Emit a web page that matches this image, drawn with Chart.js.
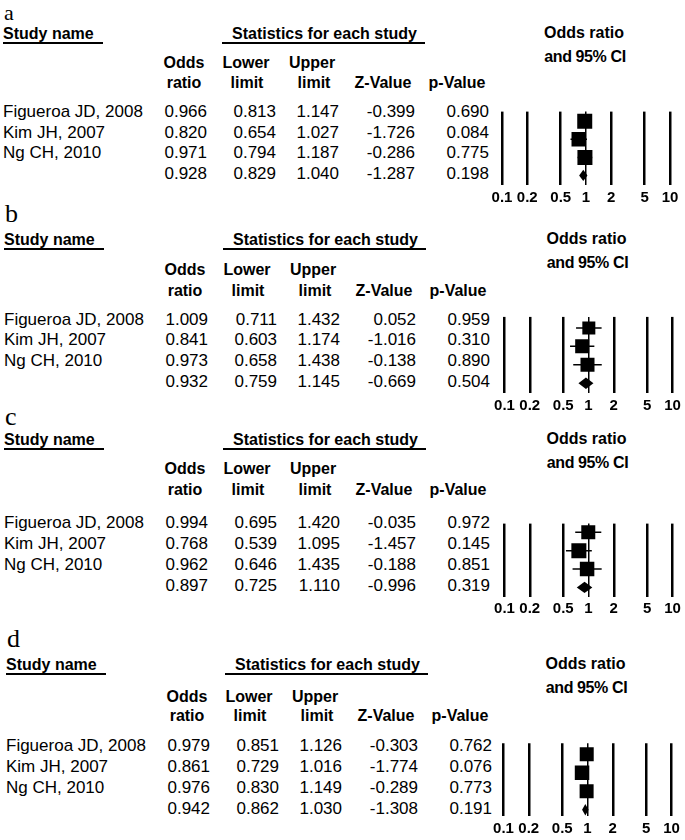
<!DOCTYPE html>
<html>
<head>
<meta charset="utf-8">
<script src="https://cdn.jsdelivr.net/npm/chart.js"></script>
<style>
body { margin:0; background:#fff; width:685px; height:840px; position:relative; overflow:hidden; font-family:"Liberation Sans", Arial, sans-serif; color:#000 }
.t { position:absolute; white-space:nowrap; font-size:17px; line-height:18px }
.b { font-weight:bold; font-size:16px }
.ul { position:absolute; height:1.5px; background:#000 }
canvas { position:absolute }
</style>
</head>
<body>
<script>
const studyNames = ['Figueroa JD, 2008', 'Kim JH, 2007', 'Ng CH, 2010', '']
const orTicks = [0.1, 0.2, 0.5, 1, 2, 5, 10]

// panel a
const oddsA = [0.966, 0.820, 0.971, 0.928]
const lowerA = [0.813, 0.654, 0.794, 0.829]
const upperA = [1.147, 1.027, 1.187, 1.040]
const zA = [-0.399, -1.726, -0.286, -1.287]
const pA = [0.690, 0.084, 0.775, 0.198]
// panel b
const oddsB = [1.009, 0.841, 0.973, 0.932]
const lowerB = [0.711, 0.603, 0.658, 0.759]
const upperB = [1.432, 1.174, 1.438, 1.145]
const zB = [0.052, -1.016, -0.138, -0.669]
const pB = [0.959, 0.310, 0.890, 0.504]
// panel c
const oddsC = [0.994, 0.768, 0.962, 0.897]
const lowerC = [0.695, 0.539, 0.646, 0.725]
const upperC = [1.420, 1.095, 1.435, 1.110]
const zC = [-0.035, -1.457, -0.188, -0.996]
const pC = [0.972, 0.145, 0.851, 0.319]
// panel d
const oddsD = [0.979, 0.861, 0.976, 0.942]
const lowerD = [0.851, 0.729, 0.830, 0.862]
const upperD = [1.126, 1.016, 1.149, 1.030]
const zD = [-0.303, -1.774, -0.289, -1.308]
const pD = [0.762, 0.076, 0.773, 0.191]

// layout of each panel (pixels)
const panels = [
  { name:'a', odds:oddsA, lower:lowerA, upper:upperA, z:zA, p:pA, box:[15, 14.5, 15],
    labBase:20, labSize:22, head:34, h1:63, h2:83, row:112, gap:20.7, vTop:101, vBot:185, tick:198, dx:0, fdx:0 },
  { name:'b', odds:oddsB, lower:lowerB, upper:upperB, z:zB, p:pB, box:[13, 14, 14],
    labBase:222, labSize:26, head:240, h1:270, h2:291, row:319.5, gap:20.8, vTop:307, vBot:393, tick:406, dx:1, fdx:2.5 },
  { name:'c', odds:oddsC, lower:lowerC, upper:upperC, z:zC, p:pC, box:[14, 15, 14.5],
    labBase:425, labSize:26, head:440, h1:469, h2:490, row:523, gap:21, vTop:513, vBot:597, tick:609, dx:1, fdx:2.5 },
  { name:'d', odds:oddsD, lower:lowerD, upper:upperD, z:zD, p:pD, box:[14, 14.5, 14],
    labBase:647, labSize:26, head:665, h1:697, h2:716, row:745.5, gap:21.1, vTop:733, vBot:816, tick:829, dx:3, fdx:1.5 }
]

function addText(txt, x, y, align, bold) {
  const el = document.createElement('div')
  el.className = bold ? 't b' : 't'
  el.textContent = txt
  el.style.top = (y - 9) + 'px'
  if (align == 'right') {
    el.style.right = (685 - x) + 'px'
  } else if (align == 'center') {
    el.style.left = x + 'px'
    el.style.transform = 'translateX(-50%)'
  } else {
    el.style.left = x + 'px'
  }
  document.body.appendChild(el)
  return el
}

function addLine(x1, x2, y) {
  const el = document.createElement('div')
  el.className = 'ul'
  el.style.left = x1 + 'px'
  el.style.width = (x2 - x1) + 'px'
  el.style.top = y + 'px'
  document.body.appendChild(el)
}

function makePanel(p) {
  const dx = p.dx
  // panel letter, placed by its baseline
  const lab = document.createElement('div')
  lab.textContent = p.name
  lab.style.cssText = 'position:absolute;font-family:"Liberation Serif",serif;line-height:normal;font-size:' + p.labSize + 'px;left:' + (4 + dx) + 'px;top:' + (p.labBase - 0.891 * p.labSize) + 'px'
  document.body.appendChild(lab)

  // headers
  addText('Study name', 3 + dx, p.head, 'left', true)
  addLine(3 + dx, 103 + dx, p.head + 8)
  addText('Statistics for each study', 232 + dx, p.head, 'left', true)
  addLine(222 + dx, 425 + dx, p.head + 8)
  addText('Odds ratio', 584 + p.fdx, p.head - 1, 'center', true)
  addText('and 95% CI', 585 + p.fdx, p.head + 23, 'center', true).style.letterSpacing = '-0.4px'

  addText('Odds', 184 + dx, p.h1, 'center', true)
  addText('ratio', 184 + dx, p.h2, 'center', true)
  addText('Lower', 246 + dx, p.h1, 'center', true)
  addText('limit', 247 + dx, p.h2, 'center', true)
  addText('Upper', 312 + dx, p.h1, 'center', true)
  addText('limit', 314 + dx, p.h2, 'center', true)
  addText('Z-Value', 383 + dx, p.h2, 'center', true)
  addText('p-Value', 457 + dx, p.h2, 'center', true)

  // table rows
  for (let i = 0; i < 4; i++) {
    const y = p.row + i * p.gap
    if (studyNames[i]) addText(studyNames[i], 3 + dx, y, 'left', false)
    addText(p.odds[i].toFixed(3), 207 + dx, y, 'right', false)
    addText(p.lower[i].toFixed(3), 276 + dx, y, 'right', false)
    addText(p.upper[i].toFixed(3), 339 + dx, y, 'right', false)
    addText(p.z[i].toFixed(3), 415 + dx, y, 'right', false)
    addText(p.p[i].toFixed(3), 489 + dx, y, 'right', false)
  }

  // forest plot canvas
  const cv = document.createElement('canvas')
  const cw = 215
  const ch = p.tick - p.vTop + 12
  cv.width = cw
  cv.height = ch
  cv.style.left = '470px'
  cv.style.top = p.vTop + 'px'
  document.body.appendChild(cv)
  const axisH = ch - (p.vBot - p.vTop)

  const datasets = []
  for (let i = 0; i < 3; i++) {
    datasets.push({
      type: 'line',
      data: [{ x: p.lower[i], y: i }, { x: p.upper[i], y: i }],
      borderColor: '#000',
      borderWidth: 1.5,
      pointRadius: 0
    })
  }
  datasets.push({
    type: 'scatter',
    data: [0, 1, 2].map(i => ({ x: p.odds[i], y: i })),
    pointStyle: 'rect',
    pointRadius: p.box.map(s => s / 2 / Math.SQRT1_2),
    backgroundColor: '#000',
    borderWidth: 0
  })

  // summary diamond spans the pooled CI
  const diamond = {
    id: 'diamond',
    afterDatasetsDraw(chart) {
      const xs = chart.scales.x, ys = chart.scales.y, ctx = chart.ctx
      const yc = ys.getPixelForValue(3)
      const h = ys.getPixelForValue(3.31) - yc
      ctx.save()
      ctx.fillStyle = '#000'
      ctx.beginPath()
      ctx.moveTo(xs.getPixelForValue(p.lower[3]), yc)
      ctx.lineTo(xs.getPixelForValue(p.odds[3]), yc - h)
      ctx.lineTo(xs.getPixelForValue(p.upper[3]), yc)
      ctx.lineTo(xs.getPixelForValue(p.odds[3]), yc + h)
      ctx.closePath()
      ctx.fill()
      ctx.restore()
    }
  }

  new Chart(cv, {
    type: 'scatter',
    data: { datasets: datasets },
    options: {
      responsive: false,
      animation: false,
      layout: { padding: { left: 32 + p.fdx, right: 15 - p.fdx, top: 0, bottom: 0 } },
      plugins: { legend: { display: false }, tooltip: { enabled: false } },
      scales: {
        x: {
          type: 'logarithmic',
          min: 0.1,
          max: 10,
          afterBuildTicks: s => { s.ticks = orTicks.map(v => ({ value: v })) },
          afterFit: s => { s.height = axisH },
          grid: {
            color: '#000',
            lineWidth: c => (c.tick && c.tick.value === 1) ? 1.5 : 2.5,
            drawTicks: false
          },
          border: { display: false },
          ticks: {
            color: '#000',
            padding: p.tick - p.vBot - 9,
            autoSkip: false,
            maxRotation: 0,
            font: { family: 'Liberation Sans', size: 15, weight: 'bold' },
            callback: v => orTicks.includes(v) ? String(v) : ''
          }
        },
        y: {
          type: 'linear',
          reverse: true,
          display: false,
          min: (p.vTop - p.row) / p.gap,
          max: (p.vBot - p.row) / p.gap
        }
      }
    },
    plugins: [diamond]
  })
}

panels.forEach(makePanel)
</script>
</body>
</html>
